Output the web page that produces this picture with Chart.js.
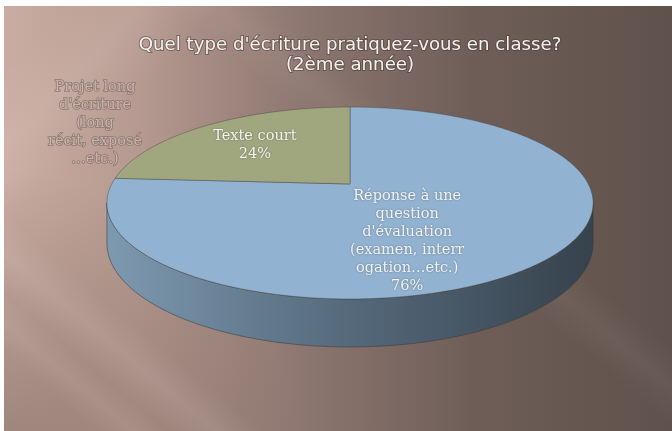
<!DOCTYPE html>
<html>
<head>
<meta charset="utf-8">
<script src="https://cdn.jsdelivr.net/npm/chart.js@4.4.1/dist/chart.umd.min.js"></script>
<style>
  html, body { margin: 0; padding: 0; background: #fff; }
  #wrap { width: 672px; height: 431px; }
</style>
</head>
<body>
<div id="wrap"><canvas id="pieChart" width="672" height="431"></canvas></div>
<script>
// ---- data ----
const categories = [
  "Réponse à une question d'évaluation (examen, interrogation…etc.)",
  "Texte court",
  "Projet long d'écriture (long récit, exposé …etc.)"
];
const values = [76, 24, 0];
// label text wrapped the way the original shows it
const labelLines = [
  ['Réponse à une', 'question', "d'évaluation", '(examen, interr', 'ogation…etc.)'],
  ['Texte court'],
  ['Projet long', "d'écriture", '(long', 'récit, exposé', '…etc.)']
];
const titleLines = ["Quel type d'écriture pratiquez-vous en classe?", '(2ème année)'];

// ---- styles ----
const SLICE_COLORS = ['#91b2d0', '#a0a67e', '#c0504d'];
const SIDE_COLORS = [['#7d99b0', '#55697b', '#36424c'], ['#858b63', '#666b4b', '#4a4e39'], ['#8a3a38', '#6a2c2a', '#4a1f1e']];
const WIDEN = 1.295;   // horizontal stretch of the top face
const TILT = 0.387;    // vertical squash
const PERSP = 0.198;   // perspective strength
const DEPTH = 38.5;    // thickness of the pie
const LABEL_RADIUS = [0.6, 0.637, 1.0];
const LABEL_NUDGE = [[-50, 13], [0, 0], [-255, 16]];
const LINE_H = 18;
const TITLE_WIDTH = 424;

function proj(el, ang, f, drop) {
  const A = el.outerRadius * WIDEN, B = A * TILT;
  const x = Math.cos(ang) * f, z = Math.sin(ang) * f;
  const w = 1 - PERSP * z;
  return [el.x + A * x / w, el.y + (B * z + (drop || 0)) / w];
}

function paintBackground(ctx, w, h) {
  ctx.fillStyle = '#ffffff';
  ctx.fillRect(0, 0, w, h);
  const L = 4, T = 6;
  ctx.save();
  ctx.beginPath(); ctx.rect(L, T, w - L, h - T); ctx.clip();
  let g = ctx.createLinearGradient(L, 0, w, 0);
  g.addColorStop(0, '#c9aca2');
  g.addColorStop(0.2, '#b69a91');
  g.addColorStop(0.45, '#8c766f');
  g.addColorStop(0.7, '#6f5e58');
  g.addColorStop(1, '#5f514b');
  ctx.fillStyle = g;
  ctx.fillRect(0, 0, w, h);
  // darker in the bottom left corner
  g = ctx.createRadialGradient(0, h + 40, 20, 0, h + 40, 300);
  g.addColorStop(0, 'rgba(75,58,52,0.35)');
  g.addColorStop(1, 'rgba(75,58,52,0)');
  ctx.fillStyle = g;
  ctx.fillRect(0, 0, w, h);
  // soft light streaks
  const streaks = [
    [150, 0, -45, 55, 0.10],
    [0, 250, 40, 30, 0.10],
    [0, 320, 40, 22, 0.08],
    [520, 260, 40, 30, 0.05]
  ];
  streaks.forEach(s => {
    ctx.save();
    ctx.translate(s[0], s[1]);
    ctx.rotate(s[2] * Math.PI / 180);
    const sg = ctx.createLinearGradient(0, -s[3], 0, s[3]);
    sg.addColorStop(0, 'rgba(255,240,235,0)');
    sg.addColorStop(0.5, 'rgba(255,240,235,' + s[4] + ')');
    sg.addColorStop(1, 'rgba(255,240,235,0)');
    ctx.fillStyle = sg;
    ctx.fillRect(-900, -s[3], 1800, s[3] * 2);
    ctx.restore();
  });
  ctx.restore();
}

const pie3d = {
  id: 'pie3d',
  beforeDraw(chart) {
    paintBackground(chart.ctx, chart.width, chart.height);
  },
  beforeDatasetsDraw(chart) {
    const ctx = chart.ctx;
    const meta = chart.getDatasetMeta(0);
    const lo = Math.asin(PERSP), hi = Math.PI - lo;
    ctx.save();
    ctx.lineJoin = 'round';
    // side wall (only the front half shows)
    meta.data.forEach((el, i) => {
      const a1 = Math.max(el.startAngle, lo), a2 = Math.min(el.endAngle, hi);
      if (a2 <= a1) return;
      const N = 120;
      ctx.beginPath();
      for (let k = 0; k <= N; k++) {
        const p = proj(el, a1 + (a2 - a1) * k / N, 1, 0);
        k ? ctx.lineTo(p[0], p[1]) : ctx.moveTo(p[0], p[1]);
      }
      for (let k = N; k >= 0; k--) {
        const p = proj(el, a1 + (a2 - a1) * k / N, 1, DEPTH);
        ctx.lineTo(p[0], p[1]);
      }
      ctx.closePath();
      const left = proj(el, hi, 1)[0], right = proj(el, lo, 1)[0];
      const g = ctx.createLinearGradient(left, 0, right, 0);
      g.addColorStop(0, SIDE_COLORS[i][0]);
      g.addColorStop(0.5, SIDE_COLORS[i][1]);
      g.addColorStop(1, SIDE_COLORS[i][2]);
      ctx.fillStyle = g;
      ctx.fill();
      ctx.strokeStyle = 'rgba(60,60,60,0.7)';
      ctx.lineWidth = 0.8;
      ctx.stroke();
    });
    // top faces
    meta.data.forEach((el, i) => {
      const span = el.endAngle - el.startAngle;
      if (span <= 0) return;
      const N = Math.max(4, Math.ceil(span * 60));
      ctx.beginPath();
      const c = proj(el, 0, 0);
      ctx.moveTo(c[0], c[1]);
      for (let k = 0; k <= N; k++) {
        const p = proj(el, el.startAngle + span * k / N, 1);
        ctx.lineTo(p[0], p[1]);
      }
      ctx.closePath();
      ctx.fillStyle = el.options.backgroundColor;
      ctx.fill();
      ctx.strokeStyle = 'rgba(70,70,70,0.55)';
      ctx.lineWidth = 0.8;
      ctx.stroke();
    });
    ctx.restore();
    return false;
  },
  afterDraw(chart) {
    const ctx = chart.ctx;
    const meta = chart.getDatasetMeta(0);
    const total = values.reduce((a, b) => a + b, 0);
    ctx.save();
    ctx.textAlign = 'center';
    ctx.textBaseline = 'middle';
    // title, sized to the width it has in the original
    ctx.font = '16px "DejaVu Sans"';
    const size = 16 * TITLE_WIDTH / ctx.measureText(titleLines[0]).width;
    ctx.font = size.toFixed(1) + 'px "DejaVu Sans"';
    ctx.lineWidth = 2;
    ctx.strokeStyle = 'rgba(70,55,50,0.5)';
    ctx.fillStyle = '#f4f1ef';
    titleLines.forEach((t, k) => {
      ctx.strokeText(t, 350, 45 + k * 20);
      ctx.fillText(t, 350, 45 + k * 20);
    });
    // data labels
    ctx.font = '14.5px "DejaVu Serif"';
    meta.data.forEach((el, i) => {
      const mid = (el.startAngle + el.endAngle) / 2;
      const p = proj(el, mid, LABEL_RADIUS[i]);
      const x = p[0] + LABEL_NUDGE[i][0], y = p[1] + LABEL_NUDGE[i][1];
      const lines = labelLines[i].slice();
      if (values[i] > 0) lines.push(Math.round(values[i] / total * 100) + '%');
      const y0 = y - (lines.length - 1) * LINE_H / 2;
      lines.forEach((t, k) => {
        if (values[i] > 0) {
          ctx.shadowColor = 'rgba(0,0,0,0.35)';
          ctx.shadowBlur = 2;
          ctx.fillStyle = '#f3f3f1';
          ctx.fillText(t, x, y0 + k * LINE_H);
          ctx.shadowColor = 'transparent';
        } else {
          ctx.lineWidth = 1.6;
          ctx.strokeStyle = '#8a7a76';
          ctx.strokeText(t, x, y0 + k * LINE_H);
          ctx.fillStyle = '#cdb1a7';
          ctx.fillText(t, x, y0 + k * LINE_H);
        }
      });
    });
    ctx.restore();
  }
};

new Chart(document.getElementById('pieChart'), {
  type: 'pie',
  data: {
    labels: categories,
    datasets: [{ data: values, backgroundColor: SLICE_COLORS, borderWidth: 0 }]
  },
  options: {
    responsive: false,
    animation: false,
    layout: { padding: { left: 28, top: 0, right: 0, bottom: 63 } },
    plugins: {
      legend: { display: false },
      tooltip: { enabled: false },
      title: { display: false }
    }
  },
  plugins: [pie3d]
});
</script>
</body>
</html>
